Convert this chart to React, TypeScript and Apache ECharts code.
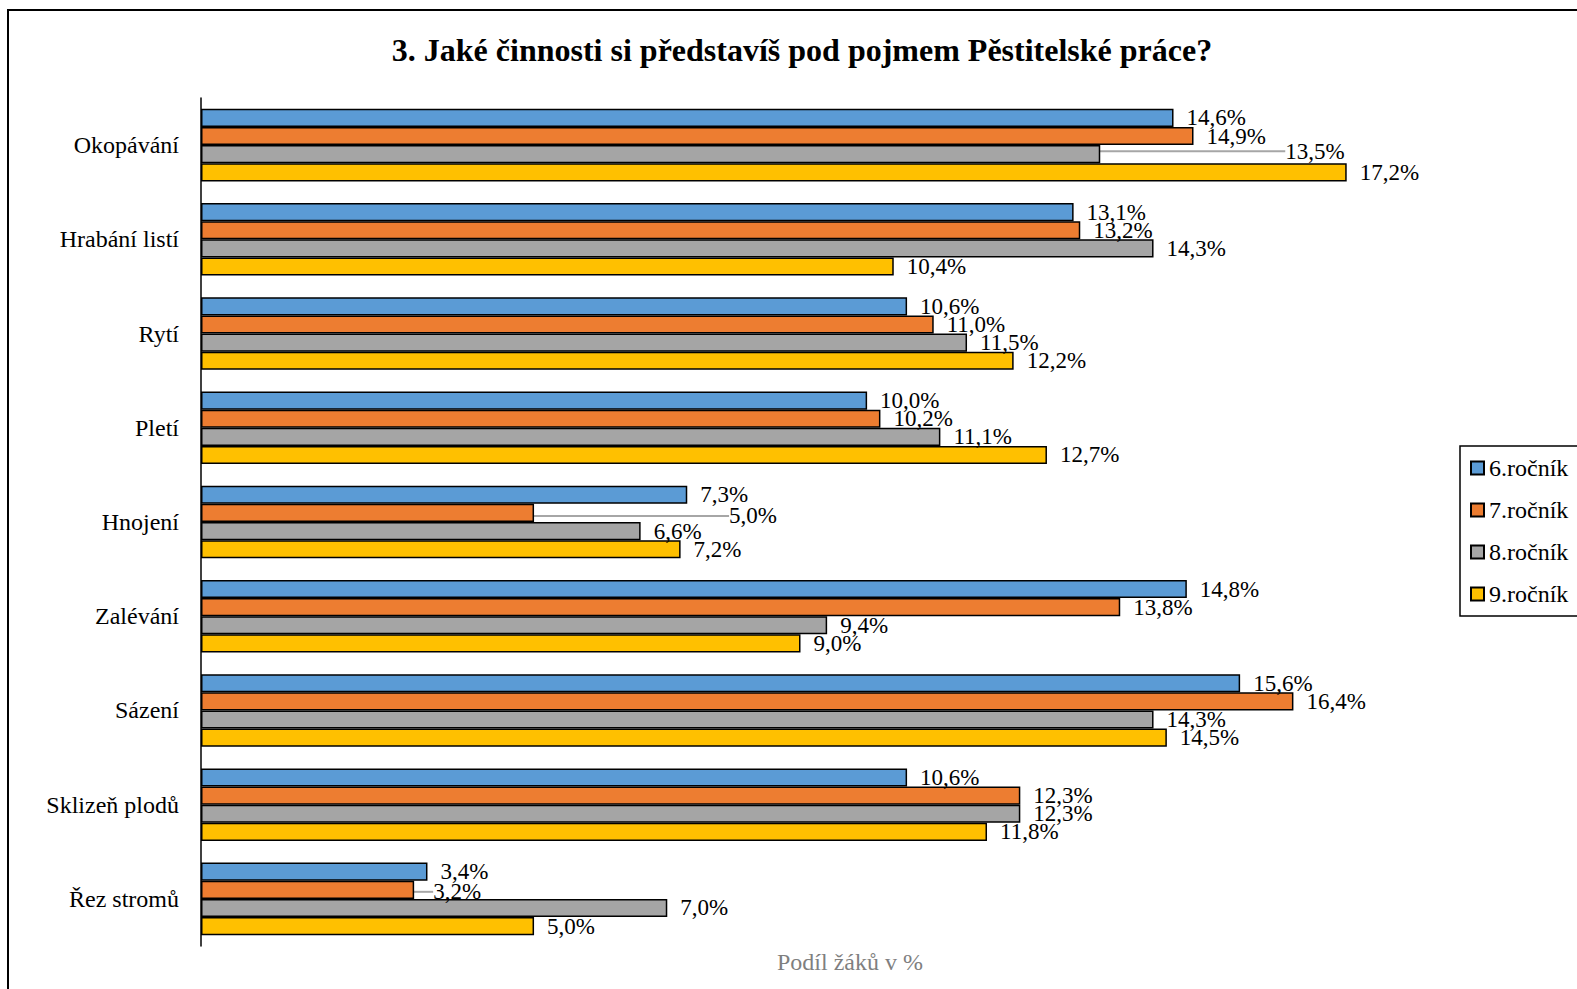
import React, { useEffect, useRef } from "react";
import * as echarts from "echarts";

const categories = [
  "Okopávání",
  "Hrabání listí",
  "Rytí",
  "Pletí",
  "Hnojení",
  "Zalévání",
  "Sázení",
  "Sklizeň plodů",
  "Řez stromů",
];
const seriesNames = ["6.ročník", "7.ročník", "8.ročník", "9.ročník"];
const grade6 = [14.6, 13.1, 10.6, 10.0, 7.3, 14.8, 15.6, 10.6, 3.4];
const grade7 = [14.9, 13.2, 11.0, 10.2, 5.0, 13.8, 16.4, 12.3, 3.2];
const grade8 = [13.5, 14.3, 11.5, 11.1, 6.6, 9.4, 14.3, 12.3, 7.0];
const grade9 = [17.2, 10.4, 12.2, 12.7, 7.2, 9.0, 14.5, 11.8, 5.0];
const colors = ["#5B9BD5", "#ED7D31", "#A5A5A5", "#FFC000"];
const titleText = "3. Jaké činnosti si představíš pod pojmem Pěstitelské práce?";
const axisTitle = "Podíl žáků v %";

// labels that were pulled away from their bar (with a leader line)
const movedLabels = [
  { series: 2, category: 0, dx: 172, dy: -3 },
  { series: 1, category: 4, dx: 182, dy: 3 },
  { series: 1, category: 8, dx: 6, dy: 2 },
];

const FONT = "'Liberation Serif', 'Times New Roman', serif";

export default function App() {
  const ref = useRef<HTMLDivElement>(null);
  useEffect(() => {
    if (!ref.current) return;
    const chart = echarts.init(ref.current, undefined, { renderer: "svg" });
    const all = [grade6, grade7, grade8, grade9];
    const series = all.map((vals, si) => ({
      name: seriesNames[si],
      type: "bar",
      barGap: "0%",
      barCategoryGap: "23%",
      itemStyle: { color: colors[si], borderColor: "#000", borderWidth: 1.5 },
      label: {
        show: true,
        position: "right",
        distance: 13,
        color: "#000",
        fontFamily: FONT,
        fontSize: 23,
        formatter: (p: any) => p.value.toFixed(1).replace(".", ",") + "%",
      },
      labelLine: { show: false, lineStyle: { color: "#A6A6A6", width: 2 } },
      labelLayout: (p: any) => {
        const m = movedLabels.find((x) => x.series === si && x.category === p.dataIndex);
        return m ? { dx: m.dx, dy: m.dy } : {};
      },
      data: vals.map((v, ci) => {
        const moved = movedLabels.some((x) => x.series === si && x.category === ci);
        return moved ? { value: v, labelLine: { show: true } } : { value: v };
      }),
    }));
    chart.setOption({
      animation: false,
      backgroundColor: "#fff",
      textStyle: { fontFamily: FONT },
      grid: { left: 201, right: 177, top: 98, bottom: 43 },
      xAxis: {
        type: "value",
        min: 0,
        max: 18,
        axisLine: { show: false },
        axisTick: { show: false },
        axisLabel: { show: false },
        splitLine: { show: false },
      },
      yAxis: {
        type: "category",
        inverse: true,
        data: categories,
        axisLine: { show: true, lineStyle: { color: "#000", width: 1.5 } },
        axisTick: { show: false },
        axisLabel: { color: "#000", fontFamily: FONT, fontSize: 24, margin: 22 },
      },
      legend: {
        orient: "vertical",
        left: 1460,
        top: 446,
        icon: "rect",
        itemWidth: 13,
        itemHeight: 13,
        itemGap: 18,
        padding: [10, 30, 10, 10],
        borderColor: "#000",
        borderWidth: 1.5,
        textStyle: { color: "#000", fontFamily: FONT, fontSize: 24, lineHeight: 20 },
        data: seriesNames,
      },
      graphic: [
        {
          type: "rect",
          shape: { x: 8, y: 10, width: 1700, height: 1100 },
          style: { fill: "none", stroke: "#000", lineWidth: 2 },
          silent: true,
        },
        {
          type: "text",
          x: 802,
          y: 50,
          style: {
            text: titleText,
            fontFamily: FONT,
            fontWeight: "bold",
            fontSize: 32,
            fill: "#000",
            align: "center",
            verticalAlign: "middle",
          },
        },
        {
          type: "text",
          x: 850,
          y: 962,
          style: {
            text: axisTitle,
            fontFamily: FONT,
            fontSize: 24,
            fill: "#7F7F7F",
            align: "center",
            verticalAlign: "middle",
          },
        },
      ],
      series,
    });
    return () => chart.dispose();
  }, []);
  return (
    <div
      ref={ref}
      style={{ position: "fixed", left: 0, top: 0, width: 1577, height: 989, background: "#fff" }}
    />
  );
}
